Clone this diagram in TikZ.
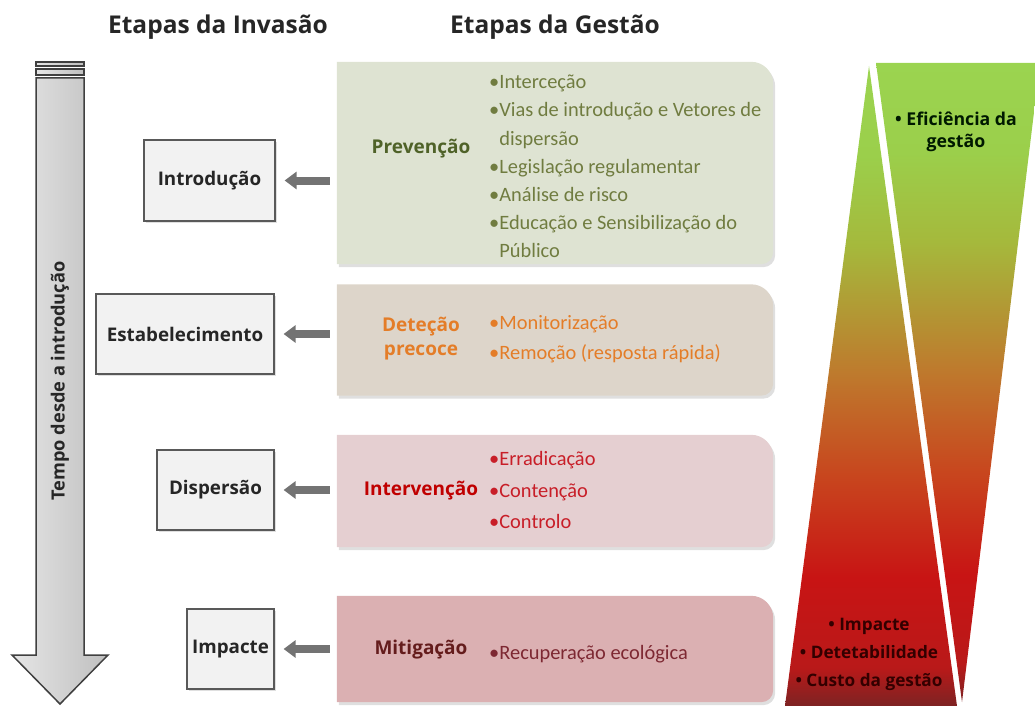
\documentclass[tikz,border=0pt]{standalone}
\usepackage{fontspec}
\setmainfont{Carlito}
\newfontfamily\osf{Open Sans}
\usetikzlibrary{arrows.meta,shadows,calc}
\definecolor{boxgray}{RGB}{242,242,242}
\definecolor{prevfill}{RGB}{222,227,210}
\definecolor{prevtitle}{RGB}{79,98,40}
\definecolor{previtem}{RGB}{112,124,64}
\definecolor{detfill}{RGB}{221,213,202}
\definecolor{dettext}{RGB}{228,125,40}
\definecolor{intfill}{RGB}{229,207,209}
\definecolor{inttitle}{RGB}{192,0,0}
\definecolor{intitem}{RGB}{200,30,40}
\definecolor{mitfill}{RGB}{219,176,178}
\definecolor{mittitle}{RGB}{100,28,28}
\definecolor{mititem}{RGB}{125,40,50}
\definecolor{arrgray}{RGB}{115,115,115}
\definecolor{g0}{RGB}{125,35,35}
\definecolor{g1}{RGB}{185,25,25}
\definecolor{g2}{RGB}{200,20,20}
\definecolor{g3}{RGB}{200,70,30}
\definecolor{g4}{RGB}{190,122,45}
\definecolor{g5}{RGB}{165,185,60}
\definecolor{g6}{RGB}{155,207,75}
\definecolor{g7}{RGB}{155,212,80}
\pgfdeclareverticalshading{trishade}{100bp}{color(0bp)=(g0); color(25bp)=(g0); color(28bp)=(g1); color(35bp)=(g2); color(43bp)=(g3); color(51bp)=(g4); color(61bp)=(g5); color(68bp)=(g6); color(75bp)=(g7); color(100bp)=(g7)}
\begin{document}
\begin{tikzpicture}[x=1pt,y=-1pt,
  hdr/.style={font=\osf\bfseries\fontsize{24.5}{28}\selectfont, text=black!85},
  lbox/.style={draw=black!65, line width=1.2pt, fill=boxgray, font=\osf\bfseries\fontsize{18.8}{20}\selectfont, text=black!85,
     drop shadow={shadow xshift=1.5pt, shadow yshift=-1.5pt, opacity=.25}},
  frame/.style={draw=none, inner sep=0pt},
  rshadow/.style={drop shadow={shadow xshift=2pt, shadow yshift=-3pt, opacity=.25}},
  title/.style={font=\osf\bfseries\fontsize{19}{24}\selectfont, align=center},
  item/.style={font=\fontsize{20.4}{28}\selectfont, anchor=base west, inner sep=0pt},
  bigarrow/.style={draw=black!75, line width=1.5pt, left color=black!10, right color=black!25},
  conn/.style={draw=arrgray, line width=8pt, -{Triangle[length=12pt,width=17pt]}, shorten <=7pt, shorten >=9pt},
  tri/.style={font=\osf\bfseries\fontsize{17.7}{22}\selectfont, align=center}
]
\useasboundingbox (0,0) rectangle (1035,706);

% headers
\node[hdr] (h1) at (218,27) {Etapas da Invasão};
\node[hdr] (h2) at (555,27) {Etapas da Gestão};

% big time arrow
\draw[bigarrow] (36,62) rectangle (84,66);
\draw[bigarrow] (36,69) rectangle (84,75);
\draw[bigarrow] (36,78) -- (84,78) -- (84,655) -- (108,655) -- (60,704) -- (12,655) -- (36,655) -- cycle;
\node[rotate=90, font=\osf\bfseries\fontsize{18.2}{20}\selectfont, text=black!85] (tempo) at (60,381) {Tempo desde a introdução};

% left boxes
\node[lbox, minimum width=131pt, minimum height=81pt] (intro) at (209.5,180.5) {Introdução};
\node[lbox, minimum width=178pt, minimum height=80pt] (estab) at (185,334) {Estabelecimento};
\node[lbox, minimum width=117pt, minimum height=80pt] (disp) at (215.5,490) {Dispersão};
\node[lbox, minimum width=87pt, minimum height=80pt] (imp) at (230.5,649) {Impacte};

% right boxes (frames)
\node[frame, minimum width=436pt, minimum height=202pt] (prev) at (555,163) {};
\node[frame, minimum width=436pt, minimum height=111pt] (det) at (555,340) {};
\node[frame, minimum width=436pt, minimum height=112pt] (int) at (555,491) {};
\node[frame, minimum width=436pt, minimum height=106pt] (mit) at (555,649) {};
\foreach \b/\c in {prev/prevfill, det/detfill, int/intfill, mit/mitfill}{
  \fill[\c, rshadow] (\b.north west) -- ([xshift=-22pt]\b.north east) arc[start angle=90, end angle=0, radius=22pt]
     -- ([yshift=12pt]\b.south east) arc[start angle=0, end angle=-90, radius=12pt] -- (\b.south west) -- cycle;
}

% titles
\node[title, text=prevtitle] (tprev) at (421,149) {Prevenção};
\node[title, text=dettext] (tdet) at (421,339) {Deteção\\precoce};
\node[title, text=inttitle] (tint) at (421,491) {Intervenção};
\node[title, text=mittitle] (tmit) at (421,650) {Mitigação};

% items
\foreach \t [count=\i] in {•Interceção, •Vias de introdução e Vetores de, \phantom{•}dispersão, •Legislação regulamentar, •Análise de risco, •Educação e Sensibilização do, \phantom{•}Público}
  \node[item, text=previtem] (pi\i) at (489,{89+28*(\i-1)}) {\t};
\node[item, text=dettext] (di1) at (489,329) {•Monitorização};
\node[item, text=dettext] (di2) at (489,359) {•Remoção (resposta rápida)};
\node[item, text=intitem] (ii1) at (489,465) {•Erradicação};
\node[item, text=intitem] (ii2) at (489,497) {•Contenção};
\node[item, text=intitem] (ii3) at (489,528) {•Controlo};
\node[item, text=mititem] (mi1) at (489,659) {•Recuperação ecológica};

% connectors
\draw[conn] (intro.east -| prev.west) -- (intro.east);
\draw[conn] (estab.east -| det.west) -- (estab.east);
\draw[conn] (disp.east -| int.west) -- (disp.east);
\draw[conn] (imp.east -| mit.west) -- (imp.east);

% triangles
\shade[shading=trishade] (869,66) -- (957,706) -- (785,706) -- cycle;
\shade[shading=trishade] (876,63) -- (1040,63) -- (962,702) -- cycle;
\node[tri, text=black!90!green] (eff) at (956,132) {• Eficiência da\\gestão};
\node[tri, text=black!80!red, font=\osf\bfseries\fontsize{17.2}{28}\selectfont] (bot) at (869,654) {• Impacte\\• Detetabilidade\\• Custo da gestão};
\end{tikzpicture}
\end{document}
